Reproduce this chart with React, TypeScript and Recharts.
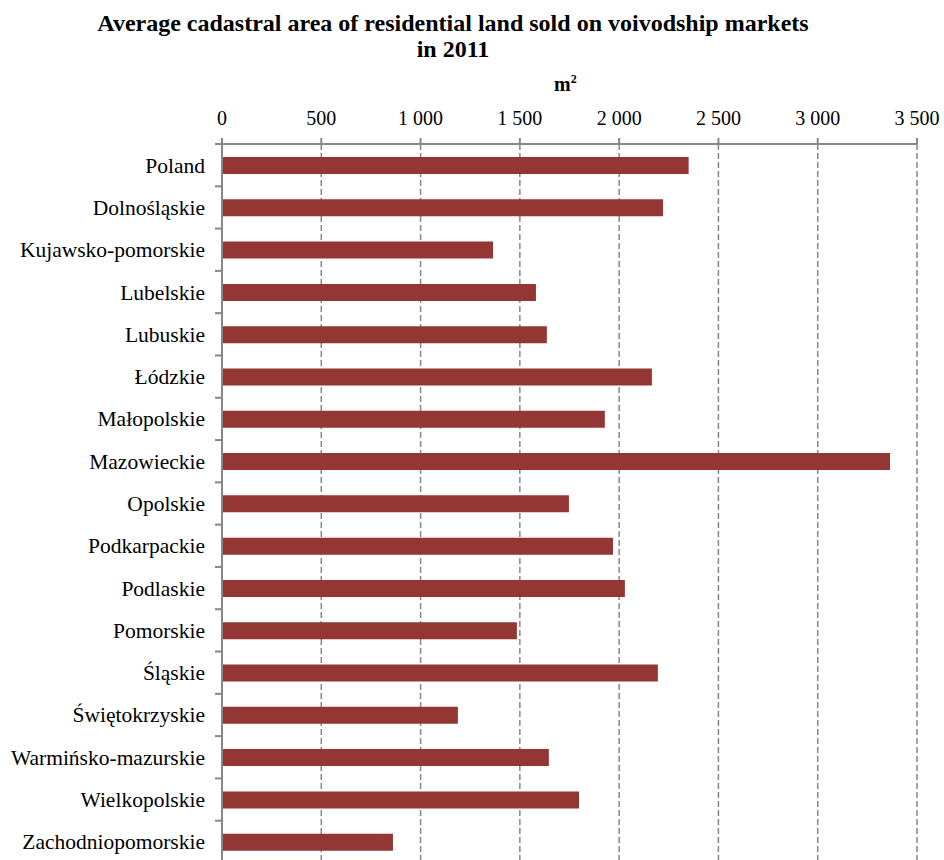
import { BarChart, Bar, XAxis, YAxis, CartesianGrid } from 'recharts';

const regions = [
  'Poland',
  'Dolnośląskie',
  'Kujawsko-pomorskie',
  'Lubelskie',
  'Lubuskie',
  'Łódzkie',
  'Małopolskie',
  'Mazowieckie',
  'Opolskie',
  'Podkarpackie',
  'Podlaskie',
  'Pomorskie',
  'Śląskie',
  'Świętokrzyskie',
  'Warmińsko-mazurskie',
  'Wielkopolskie',
  'Zachodniopomorskie',
];

const avgArea = [
  2350, 2221, 1365, 1581, 1636, 2165, 1928, 3364, 1747, 1969, 2029, 1485, 2195, 1188, 1646, 1798, 861,
];

const xTicks = [0, 500, 1000, 1500, 2000, 2500, 3000, 3500];

const data = regions.map((name, i) => ({ name, value: avgArea[i] }));

const CHART_W = 944;
const CHART_H = 863;
const TOP = 144;
const LEFT = 222;
const BAND = (CHART_H - TOP) / regions.length;
const FONT = '"Liberation Serif", "Times New Roman", serif';
const GRAY = '#878787';

function fmt(v: number) {
  return String(v).replace(/\B(?=(\d{3})+(?!\d))/g, ' ');
}

function RegionTick(props: any) {
  const { x, y, payload } = props;
  return (
    <g>
      <line x1={LEFT - 7} x2={LEFT} y1={y - BAND / 2} y2={y - BAND / 2} stroke={GRAY} strokeWidth={2} />
      <text x={x} y={y} dy="0.35em" textAnchor="end" fill="#000" fontSize={21.5} fontFamily={FONT}>
        {payload.value}
      </text>
    </g>
  );
}

export default function App() {
  return (
    <div style={{ position: 'relative', width: CHART_W, height: 860, overflow: 'hidden', fontFamily: FONT }}>
      <style>{'body{margin:0;overflow:hidden}'}</style>
      <div
        style={{
          position: 'absolute',
          left: 0,
          width: 906,
          top: 10,
          textAlign: 'center',
          fontWeight: 'bold',
          fontSize: 24,
          lineHeight: '26px',
        }}
      >
        Average cadastral area of residential land sold on voivodship markets
        <br />
        in 2011
      </div>
      <div
        style={{
          position: 'absolute',
          left: 554,
          top: 72,
          fontWeight: 'bold',
          fontSize: 20,
        }}
      >
        m<sup style={{ fontSize: 12 }}>2</sup>
      </div>
      <BarChart
        width={CHART_W}
        height={CHART_H}
        data={data}
        layout="vertical"
        margin={{ top: TOP - 40, right: CHART_W - 917, bottom: 0, left: 0 }}
        barCategoryGap={0}
      >
        <CartesianGrid
          horizontal={false}
          vertical
          stroke={GRAY}
          strokeWidth={1.5}
          strokeDasharray="6 3"
        />
        <XAxis
          type="number"
          orientation="top"
          height={40}
          domain={[0, 3500]}
          ticks={xTicks}
          interval={0}
          tickFormatter={fmt}
          tickSize={6}
          tickMargin={13}
          stroke={GRAY}
          strokeWidth={2}
          tick={{ fill: '#000', fontSize: 20, fontFamily: FONT }}
        />
        <YAxis
          type="category"
          dataKey="name"
          width={LEFT}
          interval={0}
          tickSize={5}
          tickMargin={12}
          tickLine={false}
          stroke={GRAY}
          strokeWidth={2}
          tick={<RegionTick />}
        />
        <Bar dataKey="value" fill="#943634" barSize={17} isAnimationActive={false} />
      </BarChart>
    </div>
  );
}
